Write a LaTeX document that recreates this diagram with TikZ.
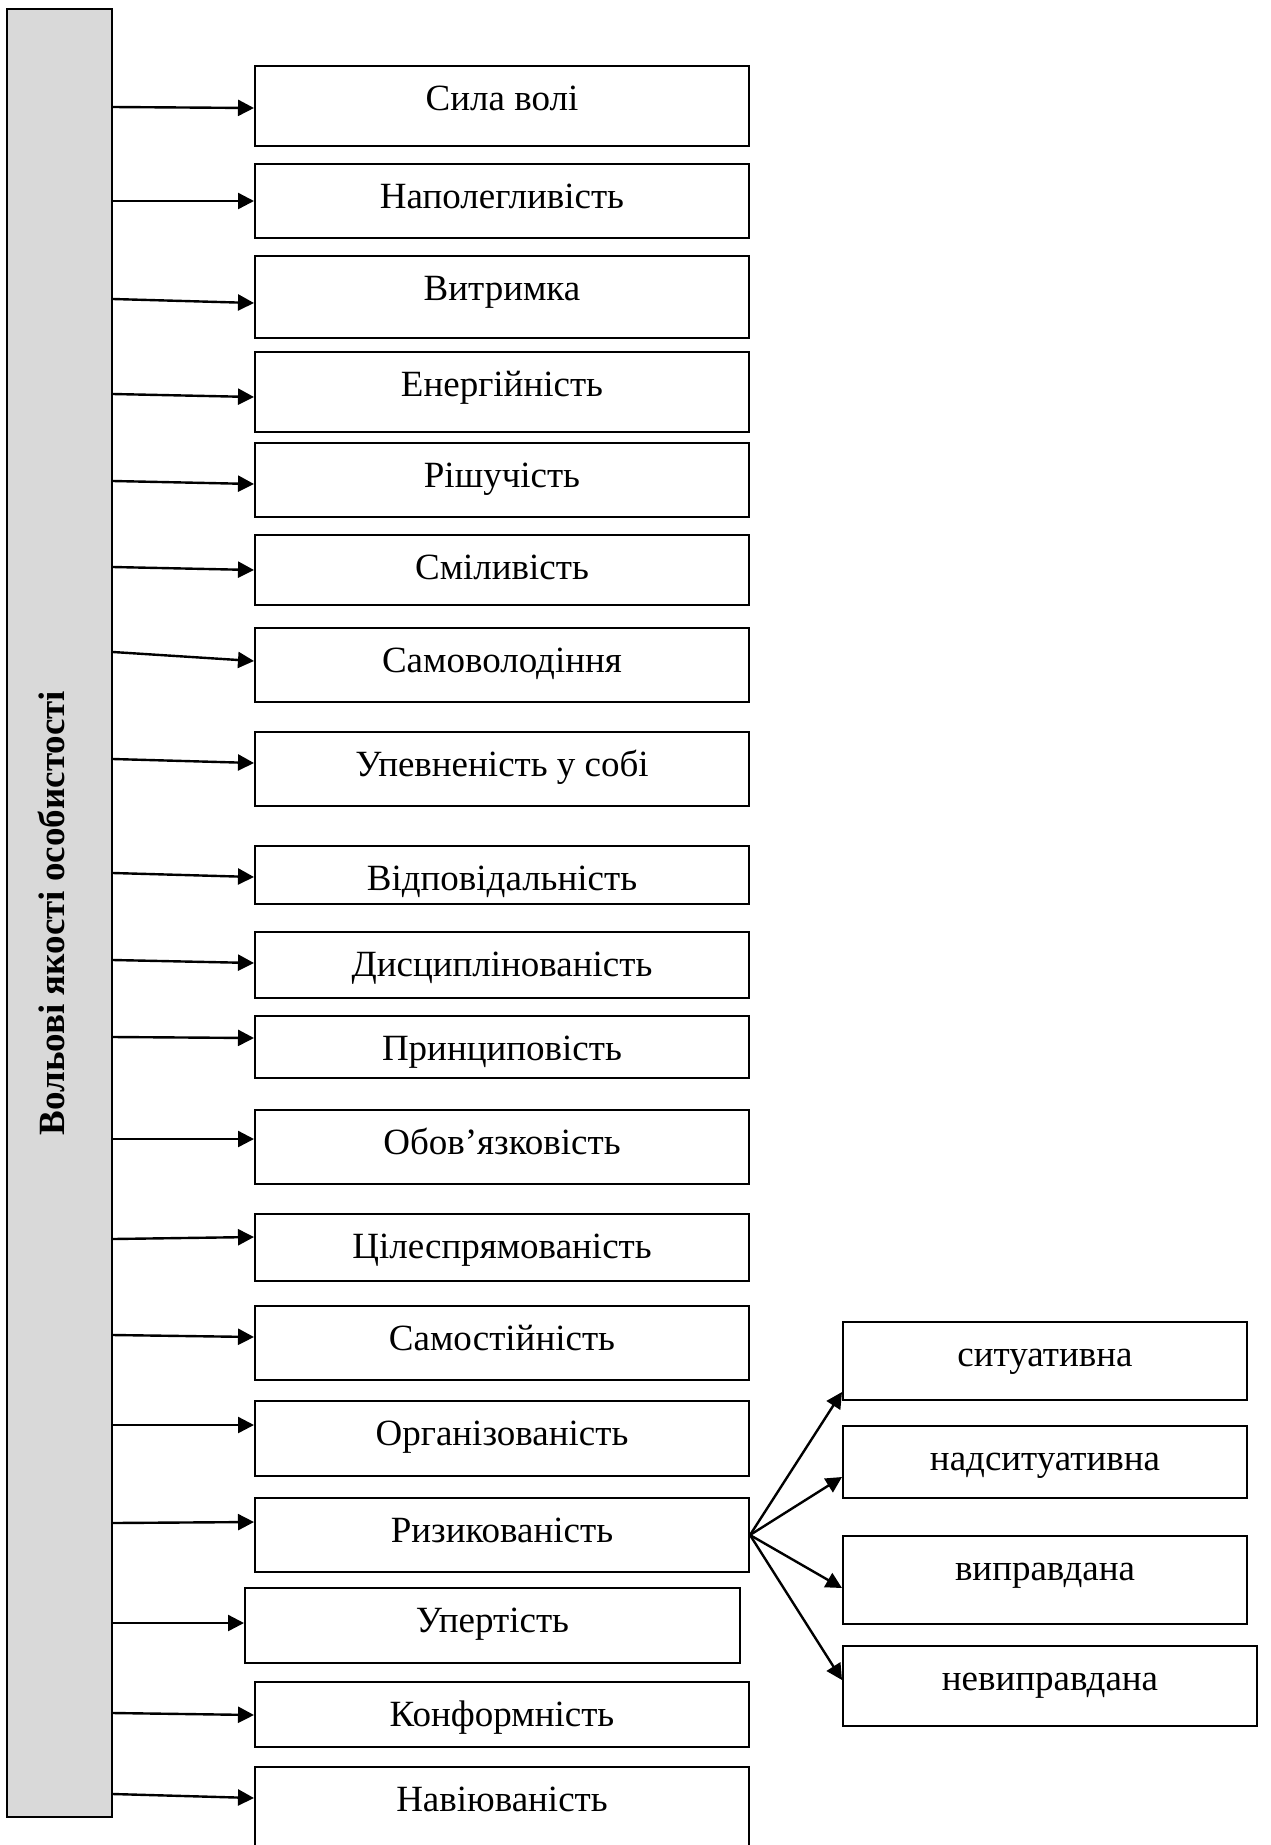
\documentclass[tikz,border=0pt]{standalone}
\usepackage{fontspec}
\setmainfont{Liberation Serif}
\usetikzlibrary{arrows.meta}
\definecolor{vqGrey}{HTML}{D9D9D9}
\tikzset{
  quality/.style={
    draw=black, line width=2pt, anchor=north west, inner sep=0pt,
    minimum width=494pt, text height=44pt,
    font=\fontsize{37}{44}\selectfont
  },
  kind/.style={quality, minimum width=404pt},
  bar/.style={draw=black, line width=2pt, fill=vqGrey, inner sep=0pt},
  barlbl/.style={rotate=90, inner sep=0pt, font=\fontsize{37}{44}\selectfont\bfseries},
  flow/.style={-{Triangle[length=16pt 0 0, width=16pt 0 0]}, line width=2.4pt, draw=black},
}

\begin{document}
\begin{tikzpicture}[x=1pt, y=-1pt]
  \useasboundingbox (0,0) rectangle (1270,1845);

  % left bar
  \node[bar, minimum width=105pt, minimum height=1808pt] (bar) at (59.5,913) {};
  \node[barlbl] (title) at ([xshift=-8pt]bar.center) {Вольові якості особистості};

  % qualities
  \node[quality, text depth=36pt] (q1)  at (254,65)   {Сила волі};
  \node[quality, text depth=30pt] (q2)  at (254,163)  {Наполегливість};
  \node[quality, text depth=38pt] (q3)  at (254,255)  {Витримка};
  \node[quality, text depth=36pt] (q4)  at (254,351)  {Енергійність};
  \node[quality, text depth=30pt] (q5)  at (254,442)  {Рішучість};
  \node[quality, text depth=26pt] (q6)  at (254,534)  {Сміливість};
  \node[quality, text depth=30pt] (q7)  at (254,627)  {Самоволодіння};
  \node[quality, text depth=30pt] (q8)  at (254,731)  {Упевненість у собі};
  \node[quality, text depth=14pt] (q9)  at (254,845)  {Відповідальність};
  \node[quality, text depth=22pt] (q10) at (254,931)  {Дисциплінованість};
  \node[quality, text depth=18pt] (q11) at (254,1015) {Принциповість};
  \node[quality, text depth=30pt] (q12) at (254,1109) {Обов’язковість};
  \node[quality, text depth=23pt] (q13) at (254,1213) {Цілеспрямованість};
  \node[quality, text depth=30pt] (q14) at (254,1305) {Самостійність};
  \node[quality, text depth=31pt] (q15) at (254,1400) {Організованість};
  \node[quality, text depth=30pt] (q16) at (254,1497) {Ризикованість};
  \node[quality, text depth=31pt, minimum width=495pt] (q17) at (244,1587) {Упертість};
  \node[quality, text depth=21pt] (q18) at (254,1681) {Конформність};
  \node[quality, text depth=56pt] (q19) at (254,1766) {Навіюваність};

  \draw[flow] (bar.east |- 0,107)  -- (q1.west |- 0,108);
  \draw[flow] (bar.east |- 0,201)  -- (q2.west |- 0,201);
  \draw[flow] (bar.east |- 0,299)  -- (q3.west |- 0,303);
  \draw[flow] (bar.east |- 0,394)  -- (q4.west |- 0,397);
  \draw[flow] (bar.east |- 0,481)  -- (q5.west |- 0,484);
  \draw[flow] (bar.east |- 0,567)  -- (q6.west |- 0,570);
  \draw[flow] (bar.east |- 0,652)  -- (q7.west |- 0,661);
  \draw[flow] (bar.east |- 0,759)  -- (q8.west |- 0,763);
  \draw[flow] (bar.east |- 0,873)  -- (q9.west |- 0,877);
  \draw[flow] (bar.east |- 0,960)  -- (q10.west |- 0,963);
  \draw[flow] (bar.east |- 0,1037) -- (q11.west |- 0,1038);
  \draw[flow] (bar.east |- 0,1139) -- (q12.west |- 0,1139);
  \draw[flow] (bar.east |- 0,1239) -- (q13.west |- 0,1237);
  \draw[flow] (bar.east |- 0,1335) -- (q14.west |- 0,1337);
  \draw[flow] (bar.east |- 0,1425) -- (q15.west |- 0,1425);
  \draw[flow] (bar.east |- 0,1523) -- (q16.west |- 0,1522);
  \draw[flow] (bar.east |- 0,1623) -- (q17.west |- 0,1623);
  \draw[flow] (bar.east |- 0,1713) -- (q18.west |- 0,1715);
  \draw[flow] (bar.east |- 0,1794) -- (q19.west |- 0,1798);

  % kinds of riskiness
  \node[kind, text depth=34pt] (r1) at (842,1321) {ситуативна};
  \node[kind, text depth=28pt] (r2) at (842,1425) {надситуативна};
  \node[kind, text depth=44pt] (r3) at (842,1535) {виправдана};
  \node[kind, text depth=36pt, minimum width=414pt] (r4) at (842,1645) {невиправдана};

  \draw[flow] (q16.east) -- ([yshift=9pt]r1.south west);
  \draw[flow] (q16.east) -- ([yshift=22pt]r2.south west);
  \draw[flow] (q16.east) -- ([yshift=-8pt]r3.west);
  \draw[flow] (q16.east) -- ([yshift=6pt]r4.west);
\end{tikzpicture}
\end{document}
